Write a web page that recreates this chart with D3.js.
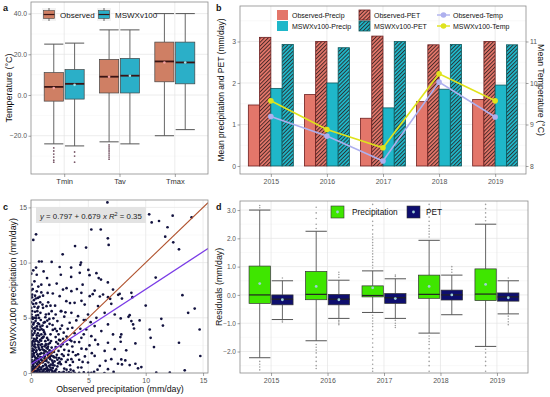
<!DOCTYPE html>
<html>
<head>
<meta charset="utf-8">
<title>MSWX validation panels</title>
<script src="https://cdn.jsdelivr.net/npm/d3@7"></script>
<style>
    body { margin:0; background:#fff; }
    svg text { font-family: "Liberation Sans", Arial, sans-serif; }
</style>
</head>
<body>
<svg id="chart" width="550" height="397"></svg>
<script>
// ---- data ----
var tempVars = ["Tmin", "Tav", "Tmax"];
// [low whisker, q1, median, q3, high whisker, mean]
var obsTempBox  = [[-24, -3, 4, 11, 25, 3.4], [-23, 1, 9, 17.5, 32, 9], [-20, 6.5, 16.5, 26, 40, 16]];
var mswxTempBox = [[-25, -2, 5.5, 12.5, 25.5, 5], [-24, 1, 9.5, 18, 32, 9.5], [-17, 5.5, 16, 26, 40, 16]];
var obsTempOut  = [[-26, -27.5, -29, -30.5, -32, -33], [-24.5, -25.5, -26.5, -27.5, -28.5, -29.5, -30.5, -31.5], []];
var mswxTempOut = [[-28, -30, -33], [], []];

var years = ["2015", "2016", "2017", "2018", "2019"];
var obsPrecip  = [1.47, 1.72, 1.15, 1.55, 1.60];
var obsPet     = [3.10, 3.00, 3.13, 2.92, 3.00];
var mswxPrecip = [1.87, 2.00, 1.40, 1.85, 1.95];
var mswxPet    = [2.93, 2.85, 3.00, 2.93, 2.92];
var obsTemp    = [9.19, 8.72, 8.12, 10.02, 9.18];
var mswxTemp   = [9.57, 8.88, 8.44, 10.22, 9.57];

// daily precipitation pairs [observed, MSWXv100]
var precipPairs = [
  [0.05,0.1],[0.1,0.4],[0.2,0.8],[0.05,1.2],[0.3,1.5],[0.15,2.0],[0.4,2.3],[0.1,2.7],[0.25,3.1],[0.5,3.4],
  [0.05,3.8],[0.35,4.1],[0.6,4.5],[0.15,4.9],[0.45,5.2],[0.1,5.6],[0.3,6.0],[0.7,0.3],[0.8,0.9],[0.6,1.3],
  [0.9,1.8],[0.7,2.2],[0.95,2.6],[0.8,3.0],[0.55,2.9],[0.9,3.5],[0.75,3.9],[1.0,4.3],[0.85,4.8],[0.5,0.05],
  [1.0,0.1],[0.3,0.2],[0.2,0.05],[0.4,0.6],[0.65,0.7],[0.15,1.0],[0.45,1.1],[0.55,1.7],[0.25,1.8],[0.35,2.6],
  [0.6,3.6],[0.2,4.4],[0.4,4.7],[0.7,5.0],[0.05,5.3],[0.55,5.6],[0.25,6.6],[0.1,7.1],[0.45,6.3],[0.65,6.0],
  [1.1,0.3],[1.3,0.7],[1.2,1.1],[1.5,1.4],[1.4,0.2],[1.7,0.5],[1.9,0.9],[1.6,1.8],[1.2,2.0],[1.8,2.3],
  [1.3,2.6],[1.5,3.0],[1.1,3.3],[1.7,3.5],[1.9,3.9],[1.4,4.2],[1.2,4.6],[1.6,4.9],[1.3,5.3],[1.8,5.6],
  [1.05,5.9],[1.5,6.4],[1.2,1.5],[1.45,2.2],[1.75,2.9],[1.95,1.5],[1.25,0.05],[1.6,0.05],[1.85,0.2],[1.15,3.7],
  [2.1,0.2],[2.3,0.6],[2.5,1.0],[2.2,1.4],[2.7,1.7],[2.4,2.0],[2.9,0.4],[2.6,2.4],[2.2,2.8],[2.8,3.1],
  [2.4,3.5],[2.1,4.0],[2.7,4.3],[2.3,4.7],[2.9,5.1],[2.6,5.6],[2.1,6.1],[2.5,6.96],[2.79,7.56],[2.64,5.6],
  [2.0,0.05],[2.45,0.05],[2.85,0.1],[2.3,1.2],[2.6,0.8],[2.0,1.9],[2.9,2.1],
  [3.1,0.3],[3.4,0.7],[3.2,1.2],[3.52,1.25],[3.7,0.2],[3.9,1.6],[3.3,2.0],[3.6,2.4],[3.52,2.89],[3.1,3.3],
  [3.8,3.6],[3.37,4.55],[3.95,4.76],[3.52,5.45],[3.08,6.51],[3.52,7.41],[3.8,6.36],[3.84,11.5],[3.5,8.7],[3.4,6.33],
  [3.1,7.68],[3.8,0.02],[3.3,0.05],
  [4.1,0.5],[4.39,0.5],[4.5,1.0],[4.1,1.7],[4.82,2.16],[4.39,3.19],[4.82,3.94],[4.6,4.8],[4.75,4.8],[4.1,5.15],
  [4.68,6.2],[4.39,7.26],[4.97,5.3],[4.25,9.07],[4.36,10.0],[4.8,11.36],[4.5,8.0],[4.0,7.6],[4.4,6.54],[4.97,0.95],[4.6,0.05],
  [5.26,0.02],[5.55,1.55],[5.26,3.34],[5.55,4.25],[5.84,2.59],[5.7,5.0],[5.84,6.06],[5.55,7.47],[5.12,6.96],[5.1,8.86],
  [5.26,13.0],[5.9,8.6],[5.38,7.14],[6.0,0.65],[5.5,0.1],[5.8,0.3],
  [6.13,3.8],[6.42,2.0],[6.71,2.74],[6.71,4.4],[6.42,5.45],[6.28,7.11],[6.71,6.87],[6.08,13.0],[6.1,8.46],[6.7,8.2],
  [6.77,11.6],[6.7,12.2],[6.66,15.45],[6.4,0.0],[6.71,0.35],[6.9,6.72],[6.0,6.93],[6.5,1.1],
  [7.0,1.25],[7.3,2.16],[7.15,3.49],[7.3,5.3],[7.0,6.27],[7.15,7.56],[7.6,7.08],[7.73,7.17],[7.93,6.74],[7.82,4.94],
  [7.87,3.49],[7.79,3.25],[7.82,2.83],[7.87,1.23],[7.58,0.84],[7.93,0.78],[7.2,0.1],
  [8.75,7.26],[8.84,6.87],[8.6,5.24],[8.5,5.09],[9.47,4.76],[8.75,4.7],[8.9,4.4],[8.98,4.03],[9.1,2.68],[8.3,2.05],
  [8.22,1.14],[9.1,0.84],[8.6,0.72],[9.33,0.42],[9.62,0.54],
  [10.0,6.11],[10.35,3.94],[10.43,3.19],[10.72,2.35],[10.92,0.03],[11.36,4.91],[11.5,4.3],[12.1,0.03],[12.9,2.74],[13.2,7.05],
  [13.7,5.45],[14.27,5.84],[14.7,3.94],[14.76,1.54],[13.4,0.24],[10.3,14.37],[10.52,13.64],[11.16,13.77],[12.35,14.25],[14.0,14.1],
  [11.9,13.2],[11.7,12.35],[12.9,11.2],[12.4,11.84],[10.87,8.64],
  [0.44,12.56],[0.2,12.05],[0.7,10.1],[0.93,10.1],[1.8,10.06],[2.76,10.75],[0.44,9.55],[0.5,8.9],[1.1,9.2],[1.4,8.6],
  [2.5,9.6],[3.5,9.55],[4.3,9.8],[5.0,9.34],[5.7,9.04],[2.24,8.1],[0.64,7.83],[1.6,7.98],[0.9,7.3],[0.3,8.3],[1.9,7.2],[2.6,8.9],
  [0.12,0.25],[0.28,0.45],[0.42,0.18],[0.58,0.38],[0.75,0.12],[0.9,0.48],[1.05,0.62],[1.22,0.35],[1.38,0.52],[1.55,0.28],
  [1.72,0.75],[1.9,0.45],[2.05,0.68],[2.2,0.32],[2.38,0.88],[0.18,0.62],[0.35,0.95],[0.52,0.82],[0.68,1.05],[0.85,1.22],
  [1.02,0.95],[1.18,1.32],[1.35,1.08],[1.52,0.95],[1.68,1.25],[1.85,1.12],[2.02,1.42],[0.08,1.45],[0.22,1.62],[0.38,1.38],
  [0.62,1.55],[0.78,1.72],[0.95,1.42],[1.12,1.78],[1.28,1.95],[1.45,1.65],[1.62,2.05],[1.78,1.58],[0.12,2.22],[0.28,2.42],
  [0.48,2.05],[0.65,2.35],[0.82,2.55],[1.0,2.15],[1.18,2.42],[1.35,2.28],[1.52,2.62],[0.18,2.88],[0.42,3.02],[0.68,2.78],
  [0.95,3.15],[1.25,2.88],[0.08,3.42],[0.3,3.62],[0.55,3.98],[0.82,4.2],[1.08,3.88],[0.2,4.02],[0.02,4.62],[0.02,0.55],
  [0.02,2.45],[0.02,3.2],[0.02,5.9],[0.02,6.4],[0.3,0.02],[0.65,0.02],[0.88,0.02],[1.45,0.02],[2.2,0.02],[2.7,0.02],
  [3.1,0.02],[4.2,0.02],[5.0,0.02],[0.15,7.6],[0.35,7.0],[0.05,8.0],[0.6,6.8],[0.02,9.0],[0.2,9.3],[0.8,6.4],
  [0.1,0.15],[0.22,0.35],[0.38,0.52],[0.55,0.22],[0.72,0.55],[0.88,0.32],[1.08,0.18],[1.25,0.78],[1.42,0.38],[1.58,0.65],
  [1.75,0.3],[1.92,0.7],[0.15,0.85],[0.32,1.15],[0.48,1.32],[0.65,0.95],[0.82,1.45],[0.98,1.12],[1.15,1.55],[1.32,1.25],
  [1.48,1.85],[1.65,1.45],[1.82,1.85],[0.05,1.75],[0.25,2.1],[0.45,1.9],[0.6,2.55],[0.78,2.08],[0.95,2.35],[1.12,2.05],
  [1.3,2.55],[1.48,2.38],[1.65,2.72],[0.12,2.55],[0.32,2.85],[0.52,3.18],[0.72,3.38],[0.88,2.92],[1.05,3.22],[1.22,3.52],
  [1.4,3.18],[0.15,3.45],[0.35,3.82],[0.52,4.22],[0.7,4.42],[0.92,3.98],[1.1,4.55],[0.25,4.55],[0.45,4.95],[0.62,5.25],
  [0.82,5.45],[0.12,5.05],[0.35,5.55],[0.58,5.88],[0.2,6.25],[0.42,6.75],[0.08,6.85],[2.05,1.05],[2.25,1.65],[2.45,1.35],
  [2.15,2.35],[2.35,2.65],[2.55,2.95],[2.65,1.25],[2.85,1.55],[2.75,2.6],[2.15,3.25],[2.45,3.0],[2.55,4.0],[2.85,3.65],
  [2.25,3.8],[1.88,4.35],[1.62,4.45],[1.42,4.75],[1.95,4.95],[1.25,5.05],[1.55,5.35],[2.15,5.3],[1.7,6.1],[1.35,6.05],
  [1.0,6.2],[0.75,6.9],[0.5,7.4],[1.05,7.0],[1.45,7.25],[0.9,8.0],[0.3,5.0],[0.05,4.2],[0.02,1.0],[0.02,1.6],
  [0.02,2.0],[0.02,2.8],[0.02,3.6],[0.02,5.0],[0.02,7.5],[1.0,0.02],[1.85,0.02],[2.5,0.02],[3.5,0.02],[3.05,1.0],
  [3.25,1.65],[3.45,0.3],[3.65,1.0],[3.15,2.6],[3.4,3.0],[3.65,1.9],[3.8,2.8],[3.2,4.0],[3.6,4.1],[3.0,5.5],
  [4.2,1.2],[4.4,2.2],[4.7,1.5],[4.2,2.8],[4.6,3.5],[4.3,4.0],[5.1,2.5],[5.3,1.8],[5.6,3.0],[5.2,4.6]
];
var regIntercept = 0.797, regSlope = 0.679, regR2 = 0.35;

// residual boxes per year: [low, q1, median, q3, high, mean]
var precipResBox = [[-2.22, -0.3, 0.0, 1.02, 3.0, 0.4], [-1.62, -0.17, 0.02, 0.83, 2.25, 0.3], [-0.62, -0.07, -0.02, 0.32, 0.85, 0.25],
                    [-1.35, -0.12, 0.02, 0.7, 1.93, 0.3], [-1.82, -0.2, 0.03, 0.92, 2.5, 0.37]];
var petResBox    = [[-0.87, -0.35, -0.15, 0.0, 0.5, -0.17], [-0.83, -0.35, -0.15, 0.02, 0.52, -0.17], [-0.83, -0.3, -0.1, 0.05, 0.57, -0.13],
                    [-0.7, -0.18, 0.0, 0.17, 0.7, 0.0], [-0.67, -0.22, -0.07, 0.07, 0.5, -0.1]];
var precipResOut = [
  [3.08, 3.16, -2.35, -2.45, -2.55, -2.65],
  [2.35, 2.5, 2.7, 2.9, 3.1, -1.75, -1.85, -1.95, -2.05, -2.2, -2.35, -2.5, -2.6],
  [0.95, 1.05, 1.15, 1.25, 1.35, 1.45, 1.55, 1.65, 1.75, 1.85, 1.95, 2.05, 2.15, 2.3, 2.45, 2.6, 2.8, 3.0, 3.2,
   -0.72, -0.82, -0.92, -1.02, -1.12, -1.25, -1.4, -1.55, -1.7, -1.85, -2.0, -2.15, -2.3, -2.45, -2.6, -2.7],
  [2.05, 2.15, 2.25, 2.35, 2.45, 2.6, 2.75, 2.9, 3.05, 3.2, -1.45, -1.55, -1.65, -1.75, -1.9, -2.05, -2.2, -2.35, -2.5, -2.7],
  [2.62, 2.75, 2.9, 3.05, 3.2, -1.92, -2.05, -2.2, -2.35, -2.5, -2.7]
];
var petResOut = [[0.6, -0.92, -0.96], [0.62, 0.72, 0.8, -0.9, -0.95, -1.0, -1.05], [0.65, 0.7, -0.9, -1.0, -1.08, -1.15],
                 [0.8, 0.9, 1.0], [0.6, -0.75, -0.85, -0.95, -1.05]];

// ---- helpers ----
var svg = d3.select("#chart");
var defs = svg.append("defs");

function makeHatch(id, fill) {
    var p = defs.append("pattern").attr("id", id)
        .attr("patternUnits", "userSpaceOnUse")
        .attr("width", 2.7).attr("height", 2.7)
        .attr("patternTransform", "rotate(45)");
    p.append("rect").attr("width", 2.7).attr("height", 2.7).attr("fill", fill);
    p.append("line").attr("x1", 0.5).attr("y1", 0).attr("x2", 0.5).attr("y2", 2.7)
        .attr("stroke", "#2a1a1a").attr("stroke-width", 0.8);
}
makeHatch("hatchObs", "#e3766a");
makeHatch("hatchMswx", "#1fb7c9");

function panelBg(b, xs, xVals, ys, yMajor, yMinor, xMinor) {
    var g = svg.append("g");
    g.append("rect").attr("x", b.x0).attr("y", b.y0).attr("width", b.x1 - b.x0).attr("height", b.y1 - b.y0).attr("fill", "#fff");
    yMinor.forEach(function(v) {
        g.append("line").attr("x1", b.x0).attr("x2", b.x1).attr("y1", ys(v)).attr("y2", ys(v)).attr("stroke", "#f2f2f2").attr("stroke-width", 0.5);
    });
    (xMinor || []).forEach(function(v) {
        g.append("line").attr("y1", b.y0).attr("y2", b.y1).attr("x1", xs(v)).attr("x2", xs(v)).attr("stroke", "#f2f2f2").attr("stroke-width", 0.5);
    });
    yMajor.forEach(function(v) {
        g.append("line").attr("x1", b.x0).attr("x2", b.x1).attr("y1", ys(v)).attr("y2", ys(v)).attr("stroke", "#e4e4e4").attr("stroke-width", 0.7);
    });
    xVals.forEach(function(v) {
        g.append("line").attr("y1", b.y0).attr("y2", b.y1).attr("x1", xs(v)).attr("x2", xs(v)).attr("stroke", "#e4e4e4").attr("stroke-width", 0.7);
    });
    return g;
}

function border(b) {
    svg.append("rect").attr("x", b.x0).attr("y", b.y0).attr("width", b.x1 - b.x0).attr("height", b.y1 - b.y0)
        .attr("fill", "none").attr("stroke", "#8c8c8c").attr("stroke-width", 0.8);
}

function styleAxis(sel, fs, col) {
    sel.select(".domain").remove();
    sel.selectAll(".tick line").attr("stroke", "#666").attr("stroke-width", 0.6);
    sel.selectAll(".tick text").attr("fill", col || "#555").style("font-size", fs + "px");
}

function drawBox(g, cx, w, ys, st, fill, stroke, medCol, medW) {
    g.append("line").attr("x1", cx).attr("x2", cx).attr("y1", ys(st[4])).attr("y2", ys(st[3])).attr("stroke", "#666").attr("stroke-width", 1);
    g.append("line").attr("x1", cx).attr("x2", cx).attr("y1", ys(st[1])).attr("y2", ys(st[0])).attr("stroke", "#666").attr("stroke-width", 1);
    [st[0], st[4]].forEach(function(v) {
        g.append("line").attr("x1", cx - w / 2).attr("x2", cx + w / 2).attr("y1", ys(v)).attr("y2", ys(v)).attr("stroke", "#555").attr("stroke-width", 1);
    });
    g.append("rect").attr("x", cx - w / 2).attr("width", w).attr("y", ys(st[3])).attr("height", ys(st[1]) - ys(st[3]))
        .attr("fill", fill).attr("stroke", stroke).attr("stroke-width", 0.7);
    g.append("line").attr("x1", cx - w / 2).attr("x2", cx + w / 2).attr("y1", ys(st[2])).attr("y2", ys(st[2])).attr("stroke", medCol).attr("stroke-width", medW);
}

function label(x, y, txt, opts) {
    opts = opts || {};
    var t = svg.append("text").attr("x", x).attr("y", y).text(txt)
        .style("font-size", (opts.size || 10) + "px").attr("fill", opts.fill || "#111")
        .attr("text-anchor", opts.anchor || "start");
    if (opts.bold) t.style("font-weight", "bold");
    if (opts.rotate) t.attr("transform", "rotate(" + opts.rotate + "," + x + "," + y + ")");
    return t;
}

// ---- panel a: temperature boxplots ----
var aBox = {x0: 31, x1: 208, y0: 2, y1: 174};
var ax = d3.scalePoint().domain(tempVars).range([aBox.x0, aBox.x1]).padding(0.6);
var ay = d3.scaleLinear().domain([-38.8, 45.7]).range([aBox.y1, aBox.y0]);
var aSub = d3.scaleBand().domain(["Observed", "MSWXv100"]).range([-20, 20]).paddingInner(0.08);
var aFill = {Observed: "#cf7f64", MSWXv100: "#2bafc8"};
var aG = panelBg(aBox, ax, tempVars, ay, [-20, 0, 20, 40], [-30, -10, 10, 30]);

tempVars.forEach(function(v, i) {
    [["Observed", obsTempBox, obsTempOut, "#f4a0a0"], ["MSWXv100", mswxTempBox, mswxTempOut, "#9fe3ea"]].forEach(function(s) {
        var cx = ax(v) + aSub(s[0]) + aSub.bandwidth() / 2;
        drawBox(aG, cx, aSub.bandwidth(), ay, s[1][i], aFill[s[0]], "#444", "#3a1414", 1.8);
        aG.append("circle").attr("cx", cx).attr("cy", ay(s[1][i][5])).attr("r", 1.3).attr("fill", s[3]);
        s[2][i].forEach(function(o) {
            aG.append("circle").attr("cx", cx).attr("cy", ay(o)).attr("r", 0.9).attr("fill", "#7a5a6a");
        });
    });
});
border(aBox);
var aAxY = svg.append("g").attr("transform", "translate(" + aBox.x0 + ",0)")
    .call(d3.axisLeft(ay).tickValues([-20, 0, 20, 40]).tickFormat(d3.format(".1f")).tickSize(2.5).tickPadding(1.5));
styleAxis(aAxY, 6.8);
var aAxX = svg.append("g").attr("transform", "translate(0," + aBox.y1 + ")")
    .call(d3.axisBottom(ax).tickSize(3).tickPadding(2));
styleAxis(aAxX, 7.5, "#333");

// legend a
[["Observed", 42, 60], ["MSWXv100", 97, 115]].forEach(function(d) {
    var k = svg.append("g");
    k.append("rect").attr("x", d[1]).attr("y", 8).attr("width", 14).attr("height", 13).attr("fill", "#f2f2f2");
    k.append("line").attr("x1", d[1] + 7).attr("x2", d[1] + 7).attr("y1", 8).attr("y2", 21).attr("stroke", "#666");
    k.append("rect").attr("x", d[1] + 1.5).attr("y", 10.5).attr("width", 11).attr("height", 8).attr("fill", aFill[d[0]]).attr("stroke", "#444").attr("stroke-width", 0.6);
    k.append("line").attr("x1", d[1] + 1.5).attr("x2", d[1] + 12.5).attr("y1", 14.5).attr("y2", 14.5).attr("stroke", "#3a1414").attr("stroke-width", 1.2);
    label(d[2], 17.5, d[0], {size: 8});
});
label(12, 88, "Temperature (°C)", {size: 9, anchor: "middle", rotate: -90});
label(3, 11, "a", {size: 9, bold: true});

// ---- panel b: annual means ----
var bBox = {x0: 240, x1: 526, y0: 6, y1: 174};
var bx = d3.scalePoint().domain(years).range([bBox.x0, bBox.x1]).padding(0.55);
var by = d3.scaleLinear().domain([-0.193, 3.855]).range([bBox.y1, bBox.y0]);
var bt = d3.scaleLinear().domain([7.807, 11.855]).range([bBox.y1, bBox.y0]);
var bSeries = [
    {key: "Observed-Precip", vals: obsPrecip, fill: "#e3766a", stroke: "#6e1f1f"},
    {key: "Observed-PET", vals: obsPet, fill: "url(#hatchObs)", stroke: "#6e1f1f"},
    {key: "MSWXv100-Precip", vals: mswxPrecip, fill: "#1fb7c9", stroke: "#0d5a5f"},
    {key: "MSWXv100-PET", vals: mswxPet, fill: "url(#hatchMswx)", stroke: "#0d5a5f"}
];
var bSub = d3.scaleBand().domain(bSeries.map(function(s) { return s.key; })).range([-22.5, 22.5]);
var bG = panelBg(bBox, bx, years, by, [0, 1, 2, 3], [0.5, 1.5, 2.5, 3.5]);

bSeries.forEach(function(s) {
    bG.selectAll(null).data(years).enter().append("rect")
        .attr("x", function(y) { return bx(y) + bSub(s.key); })
        .attr("width", bSub.bandwidth())
        .attr("y", function(y, i) { return by(s.vals[i]); })
        .attr("height", function(y, i) { return by(0) - by(s.vals[i]); })
        .attr("fill", s.fill).attr("stroke", s.stroke).attr("stroke-width", 0.8);
});

var tempLines = [
    {key: "Observed-Temp", vals: obsTemp, col: "#aeb0ee"},
    {key: "MSWXv100-Temp", vals: mswxTemp, col: "#dfe31c"}
];
tempLines.forEach(function(t) {
    var line = d3.line().x(function(d, i) { return bx(years[i]); }).y(function(d) { return bt(d); });
    bG.append("path").datum(t.vals).attr("d", line).attr("fill", "none").attr("stroke", t.col).attr("stroke-width", 1.6);
    bG.selectAll(null).data(t.vals).enter().append("circle")
        .attr("cx", function(d, i) { return bx(years[i]); }).attr("cy", function(d) { return bt(d); })
        .attr("r", 2.8).attr("fill", t.col);
});
border(bBox);
var bAxL = svg.append("g").attr("transform", "translate(" + bBox.x0 + ",0)")
    .call(d3.axisLeft(by).tickValues([0, 1, 2, 3]).tickFormat(d3.format("d")).tickSize(2.5).tickPadding(1.5));
styleAxis(bAxL, 6.8);
var bAxR = svg.append("g").attr("transform", "translate(" + bBox.x1 + ",0)")
    .call(d3.axisRight(bt).tickValues([8, 9, 10, 11]).tickFormat(d3.format("d")).tickSize(2.5).tickPadding(1.5));
styleAxis(bAxR, 6.8);
var bAxX = svg.append("g").attr("transform", "translate(0," + bBox.y1 + ")")
    .call(d3.axisBottom(bx).tickSize(3).tickPadding(2));
styleAxis(bAxX, 7);

// legend b
var bLegCols = [277, 359, 438], bLegRows = [10, 21];
[[bSeries[0], 0, 0], [bSeries[1], 1, 0], [bSeries[2], 0, 1], [bSeries[3], 1, 1]].forEach(function(d) {
    var x = bLegCols[d[1]], y = bLegRows[d[2]];
    svg.append("rect").attr("x", x).attr("y", y).attr("width", 11).attr("height", 10)
        .attr("fill", d[0].fill).attr("stroke", d[1] === 1 ? d[0].stroke : "none").attr("stroke-width", 0.8);
    label(x + 15, y + 7.5, d[0].key, {size: 7});
});
tempLines.forEach(function(t, i) {
    var x = bLegCols[2], y = bLegRows[i] + 5;
    svg.append("line").attr("x1", x - 1).attr("x2", x + 12).attr("y1", y).attr("y2", y).attr("stroke", t.col).attr("stroke-width", 1.4);
    svg.append("circle").attr("cx", x + 5.5).attr("cy", y).attr("r", 2.8).attr("fill", t.col);
    label(x + 15, y + 2.5, t.key, {size: 7});
});
label(224, 90, "Mean precipitation and PET (mm/day)", {size: 8.5, anchor: "middle", rotate: -90});
label(538, 90, "Mean Temperature (°C)", {size: 8.8, anchor: "middle", rotate: 90});
label(216, 11, "b", {size: 9, bold: true});

// ---- panel c: scatter ----
var cBox = {x0: 31, x1: 208, y0: 200, y1: 373};
var cx = d3.scaleLinear().domain([0, 15.43]).range([cBox.x0, cBox.x1]);
var cy = d3.scaleLinear().domain([0, 15.67]).range([cBox.y1, cBox.y0]);
var cG = panelBg(cBox, cx, [0, 5, 10, 15], cy, [0, 5, 10, 15], [2.5, 7.5, 12.5], [2.5, 7.5, 12.5]);
defs.append("clipPath").attr("id", "clipC").append("rect")
    .attr("x", cBox.x0).attr("y", cBox.y0).attr("width", cBox.x1 - cBox.x0).attr("height", cBox.y1 - cBox.y0);
var cPlot = cG.append("g").attr("clip-path", "url(#clipC)");
cPlot.selectAll("circle").data(precipPairs).enter().append("circle")
    .attr("cx", function(d) { return cx(d[0]); }).attr("cy", function(d) { return cy(d[1]); })
    .attr("r", 1.35).attr("fill", "#12123f");
var xEnd = 15.43;
cPlot.append("line").attr("x1", cx(0)).attr("y1", cy(0)).attr("x2", cx(xEnd)).attr("y2", cy(xEnd))
    .attr("stroke", "#b0522d").attr("stroke-width", 1.1);
cPlot.append("line").attr("x1", cx(0)).attr("y1", cy(regIntercept)).attr("x2", cx(xEnd)).attr("y2", cy(regIntercept + regSlope * xEnd))
    .attr("stroke", "#7a3ce6").attr("stroke-width", 1.3);
cG.append("rect").attr("x", 36).attr("y", 207).attr("width", 110).attr("height", 16).attr("fill", "#e3e3e3");
var eq = cG.append("text").attr("x", 40).attr("y", 218.5).style("font-size", "7.8px").attr("fill", "#222");
eq.append("tspan").style("font-style", "italic").text("y");
eq.append("tspan").text(" = " + regIntercept + " + " + regSlope + " ");
eq.append("tspan").style("font-style", "italic").text("x");
eq.append("tspan").text("  ");
eq.append("tspan").style("font-style", "italic").text("R");
eq.append("tspan").attr("dy", -3).style("font-size", "5.5px").text("2");
eq.append("tspan").attr("dy", 3).text(" = " + regR2);
border(cBox);
var cAxY = svg.append("g").attr("transform", "translate(" + cBox.x0 + ",0)")
    .call(d3.axisLeft(cy).tickValues([0, 5, 10, 15]).tickSize(2.5).tickPadding(1.5));
styleAxis(cAxY, 6.8);
var cAxX = svg.append("g").attr("transform", "translate(0," + cBox.y1 + ")")
    .call(d3.axisBottom(cx).tickValues([0, 5, 10, 15]).tickSize(3).tickPadding(2));
styleAxis(cAxX, 7);
label(16, 286, "MSWXv100 precipitation (mm/day)", {size: 8.8, anchor: "middle", rotate: -90});
label(120, 392, "Observed precipitation (mm/day)", {size: 8.8, anchor: "middle"});
label(3, 210, "c", {size: 9, bold: true});

// ---- panel d: residuals ----
var dBox = {x0: 240, x1: 528, y0: 201, y1: 373};
var dx = d3.scalePoint().domain(years).range([dBox.x0, dBox.x1]).padding(0.55);
var dy = d3.scaleLinear().domain([-2.76, 3.32]).range([dBox.y1, dBox.y0]);
var dSub = d3.scaleBand().domain(["Precipitation", "PET"]).range([-22, 22]).paddingInner(0.06);
var dFill = {Precipitation: "#3fe600", PET: "#0e0e6e"};
var dG = panelBg(dBox, dx, years, dy, [-2, -1, 0, 1, 2, 3], [-2.5, -1.5, -0.5, 0.5, 1.5, 2.5]);

years.forEach(function(yr, i) {
    [["Precipitation", precipResBox, precipResOut], ["PET", petResBox, petResOut]].forEach(function(s) {
        var x = dx(yr) + dSub(s[0]) + dSub.bandwidth() / 2;
        s[2][i].forEach(function(o) {
            dG.append("circle").attr("cx", x).attr("cy", dy(o)).attr("r", 0.8).attr("fill", "#a0a0a0");
        });
        drawBox(dG, x, dSub.bandwidth(), dy, s[1][i], dFill[s[0]], "#333", "#222", 1.2);
        dG.append("circle").attr("cx", x).attr("cy", dy(s[1][i][5])).attr("r", 1.4).attr("fill", "#9fd0d8");
    });
});
border(dBox);
var dAxY = svg.append("g").attr("transform", "translate(" + dBox.x0 + ",0)")
    .call(d3.axisLeft(dy).tickValues([-2, -1, 0, 1, 2, 3]).tickFormat(d3.format(".1f")).tickSize(2.5).tickPadding(1.5));
styleAxis(dAxY, 6.5);
var dAxX = svg.append("g").attr("transform", "translate(0," + dBox.y1 + ")")
    .call(d3.axisBottom(dx).tickSize(3).tickPadding(2));
styleAxis(dAxX, 7);

// legend d
[["Precipitation", 331, 352], ["PET", 407, 426]].forEach(function(d) {
    svg.append("rect").attr("x", d[1]).attr("y", 206).attr("width", 13).attr("height", 12).attr("fill", dFill[d[0]]).attr("stroke", "#333").attr("stroke-width", 0.6);
    svg.append("circle").attr("cx", d[1] + 6.5).attr("cy", 212).attr("r", 1.4).attr("fill", "#9fd0d8");
    label(d[2], 215, d[0], {size: 8.3});
});
label(222, 287, "Residuals (mm/day)", {size: 8.8, anchor: "middle", rotate: -90});
label(216, 210, "d", {size: 9, bold: true});
</script>
</body>
</html>
